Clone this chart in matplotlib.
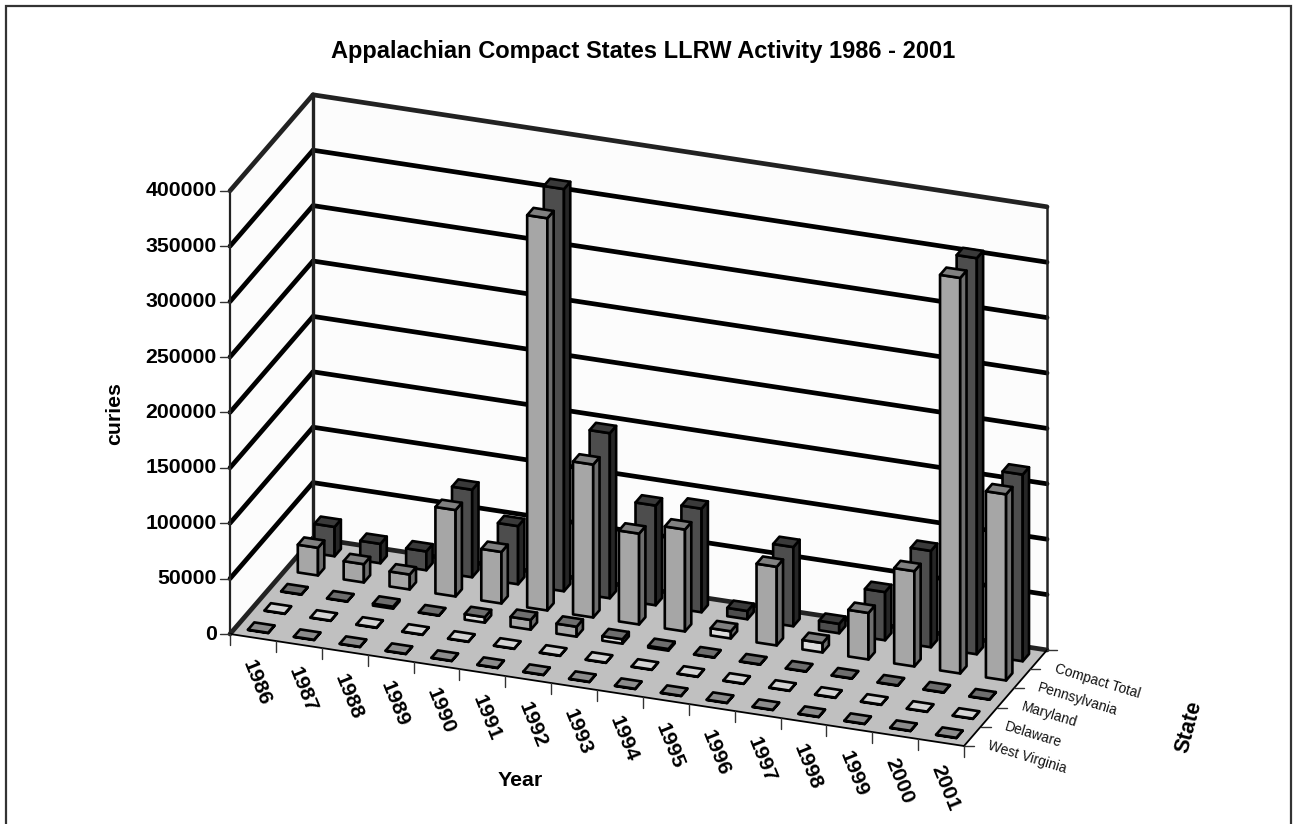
"""Appalachian Compact States LLRW activity, Excel style 3-D column chart."""

import numpy as np
import matplotlib
matplotlib.use("Agg")
import matplotlib.pyplot as plt
from matplotlib.patches import Polygon, Rectangle

plt.rcParams["font.family"] = ["Liberation Sans", "DejaVu Sans"]

years = [str(y) for y in range(1986, 2002)]
states = ["West Virginia", "Delaware", "Maryland", "Pennsylvania", "Compact Total"]
z_ticks = [0, 50000, 100000, 150000, 200000, 250000, 300000, 350000, 400000]

west_virginia = [300, 300, 300, 300, 300, 300, 300, 300, 300, 300, 300, 300, 300, 300, 300, 300]
delaware = [300, 300, 300, 300, 300, 300, 300, 300, 300, 300, 300, 300, 300, 300, 300, 300]
maryland = [300, 300, 1800, 300, 5000, 8800, 9000, 4000, 1500, 300, 300, 300, 300, 300, 300, 300]
pennsylvania = [25000, 16500, 13500, 78000, 46500, 354000, 138000, 82000, 92000, 6500,
                71000, 8500, 42000, 86000, 357000, 168000]
compact_total = [26500, 17500, 17000, 79000, 52500, 363000, 149000, 90000, 93500, 7500,
                 71500, 8500, 43500, 87000, 357500, 168500]
series = [west_virginia, delaware, maryland, pennsylvania, compact_total]

# top, front, side colours for each row
row_colors = [
    ("#8c8c8c", "#a6a6a6", "#6e6e6e"),
    ("#d4d4d4", "#efefef", "#9a9a9a"),
    ("#6e6e6e", "#a8a8a8", "#6e6e6e"),
    ("#808080", "#a6a6a6", "#6e6e6e"),
    ("#3a3a3a", "#4d4d4d", "#262626"),
]

ORIGIN = np.array([230.0, 634.0])
X_VEC = np.array([734.0, 112.0]) / len(years)
Y_VEC = np.array([83.0, -96.0]) / len(states)
Z_SCALE = 55.4 / 50000
Z_MAX = z_ticks[-1]
BAR_W = 0.44
BAR_D = 0.38


def project(x, y, z=0):
    """Oblique projection of chart coordinates onto the page."""
    return ORIGIN + x * X_VEC + y * Y_VEC + np.array([0.0, -z * Z_SCALE])


def face(ax, pts, color, lw=1.9, zorder=3):
    ax.add_patch(Polygon(pts, closed=True, facecolor=color, edgecolor="black",
                         linewidth=lw, joinstyle="round", zorder=zorder))


def draw_bar(ax, col, row, value, colors, zorder):
    top, front, side = colors
    # very short columns come out paler in the original
    if row in (2, 3) and value < 8600:
        front = "#dcdcdc"
    x0, x1 = col + 0.5 - BAR_W / 2, col + 0.5 + BAR_W / 2
    y0, y1 = row + 0.5 - BAR_D / 2, row + 0.5 + BAR_D / 2
    face(ax, [project(x0, y0), project(x1, y0), project(x1, y0, value), project(x0, y0, value)],
         front, zorder=zorder)
    face(ax, [project(x1, y0), project(x1, y1), project(x1, y1, value), project(x1, y0, value)],
         side, zorder=zorder)
    face(ax, [project(x0, y0, value), project(x1, y0, value), project(x1, y1, value), project(x0, y1, value)],
         top, zorder=zorder)


def line(ax, a, b, lw, color="black", zorder=2):
    pts = np.array([a, b])
    ax.plot(pts[:, 0], pts[:, 1], color=color, linewidth=lw, solid_capstyle="round", zorder=zorder)


fig = plt.figure(figsize=(12.93, 8.24), dpi=100)
ax = fig.add_axes([0, 0, 1, 1])
ax.set_xlim(0, 1293)
ax.set_ylim(824, 0)
ax.axis("off")

ax.add_patch(Rectangle((6, 5.5), 1285, 830, facecolor="white", edgecolor="#333333", linewidth=1.6, zorder=0))

nx, ny = len(years), len(states)

# walls and floor
face(ax, [project(0, 0), project(0, ny), project(0, ny, Z_MAX), project(0, 0, Z_MAX)], "#fcfcfc", lw=0, zorder=1)
face(ax, [project(0, ny), project(nx, ny), project(nx, ny, Z_MAX), project(0, ny, Z_MAX)], "#fcfcfc", lw=0, zorder=1)
face(ax, [project(0, 0), project(nx, 0), project(nx, ny), project(0, ny)], "#c0c0c0", lw=0, zorder=1)

# gridlines on both walls
for tick in z_ticks[1:-1]:
    line(ax, project(0, 0, tick), project(0, ny, tick), 3.4)
    line(ax, project(0, ny, tick), project(nx, ny, tick), 3.4)
line(ax, project(0, 0, Z_MAX), project(0, ny, Z_MAX), 3.4, "#222222")
line(ax, project(0, ny, Z_MAX), project(nx, ny, Z_MAX), 3.4, "#222222")
line(ax, project(0, 0), project(0, ny), 3.4, "#222222")
line(ax, project(0, ny), project(nx, ny), 3.4, "#222222")
line(ax, project(0, ny), project(0, ny, Z_MAX), 2.4, "#222222")
line(ax, project(0, 0), project(0, 0, Z_MAX), 1.6, "#222222")
line(ax, project(nx, ny), project(nx, ny, Z_MAX), 1.8, "#222222")
line(ax, project(0, 0), project(nx, 0), 1.3)
line(ax, project(nx, 0), project(nx, ny), 1.3)

# columns, back row first and left to right
order = 10
for row in range(ny - 1, -1, -1):
    for col in range(nx):
        draw_bar(ax, col, row, series[row][col], row_colors[row], order)
        order += 1

# ticks and labels
for tick in z_ticks:
    p = project(0, 0, tick)
    line(ax, p, p + np.array([-10, 0]), 1.0, "#333333")
    ax.text(p[0] - 13, p[1], str(tick), ha="right", va="center", fontsize=15.3, fontweight="bold")

for i, year in enumerate(years):
    p = project(i, 0)
    line(ax, p, p + np.array([0, 11]), 1.0, "#333333")
    c = project(i + 0.5, 0)
    ax.text(c[0] + 4, c[1] + 45, year, ha="center", va="center", rotation=-68,
            rotation_mode="anchor", fontsize=15.3, fontweight="bold")
p = project(nx, 0)
line(ax, p, p + np.array([0, 11]), 1.0, "#333333")

for j, state in enumerate(states):
    p = project(nx, j)
    line(ax, p, p + np.array([10, 0]), 1.0, "#333333")
    c = project(nx, j + 0.5)
    ax.text(c[0] + 16, c[1] + 8.5, state, ha="left", va="center", rotation=-17,
            rotation_mode="anchor", fontsize=10, color="#111111")
p = project(nx, ny)
line(ax, p, p + np.array([10, 0]), 1.0, "#333333")

ax.text(643, 51, "Appalachian Compact States LLRW Activity 1986 - 2001", ha="center", va="center",
        fontsize=17, fontweight="bold")
ax.text(115, 414, "curies", ha="center", va="center", rotation=90, fontsize=15.3, fontweight="bold")
ax.text(520, 781, "Year", ha="center", va="center", fontsize=15.3, fontweight="bold")
ax.text(1189, 727, "State", ha="center", va="center", rotation=75, fontsize=15.6, fontweight="bold")

fig.savefig("out.png", dpi=100)
plt.close(fig)
